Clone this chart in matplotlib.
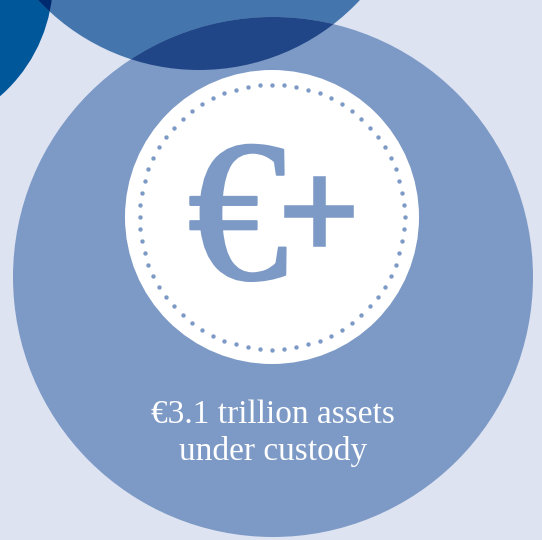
import numpy as np
import matplotlib
matplotlib.use("Agg")
import matplotlib.pyplot as plt
import matplotlib.patheffects as pe
from matplotlib.patches import Circle

BG = "#dee3f2"
LIGHT = "#7d9ac6"

# circles: centre x, centre y, radius (pixels)
big_circle = (273, 277, 260)
white_circle = (272, 217, 147)
top_circle = (199, -150, 220)
left_circle = (-101, -20, 154)

dot_count = 68
dot_radius = 132.5

euro_sign = "€"
plus_sign = "+"
label_lines = ["€3.1 trillion assets", "under custody"]

fig = plt.figure(figsize=(5.42, 5.40), dpi=100, facecolor=BG)
ax = fig.add_axes([0, 0, 1, 1])
ax.set_xlim(0, 542)
ax.set_ylim(540, 0)
ax.axis("off")


def disc(c, color, z, clip=None):
    p = Circle(c[:2], c[2], fc=color, ec="none", zorder=z)
    ax.add_patch(p)
    if clip is not None:
        p.set_clip_path(Circle(clip[:2], clip[2], transform=ax.transData))
    return p


disc(left_circle, "#00589b", 1)
disc(top_circle, "#4476ad", 2)
disc(top_circle, "#002a70", 3, clip=left_circle)
disc(big_circle, LIGHT, 4)
disc(top_circle, "#204687", 5, clip=big_circle)
disc(white_circle, "white", 6)

ang = np.linspace(0, 2 * np.pi, dot_count, endpoint=False) + np.pi / 2
ax.scatter(white_circle[0] + dot_radius * np.cos(ang), white_circle[1] + dot_radius * np.sin(ang),
           s=10, color=LIGHT, linewidths=0, zorder=7)

euro = ax.text(238, 279, euro_sign, fontsize=146, family="Liberation Serif", color=LIGHT,
               ha="center", va="baseline", zorder=8)
euro.set_path_effects([pe.withStroke(linewidth=1.5, foreground=LIGHT)])
plus = ax.text(319, 209, plus_sign, fontsize=100, family="Liberation Serif", color=LIGHT,
               ha="center", va="center_baseline", zorder=8)
plus.set_path_effects([pe.withStroke(linewidth=4, foreground=LIGHT, joinstyle="miter")])
ax.text(273, 423, label_lines[0], fontsize=24, family="Liberation Serif", color="white",
        ha="center", va="baseline", zorder=8)
ax.text(273, 460, label_lines[1], fontsize=24, family="Liberation Serif", color="white",
        ha="center", va="baseline", zorder=8)

fig.savefig("out.png", dpi=100, facecolor=BG)
